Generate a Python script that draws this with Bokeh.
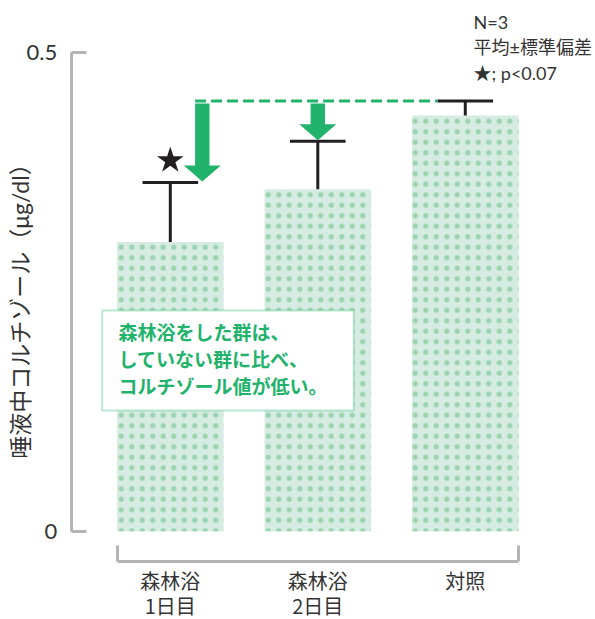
import math
from bokeh.plotting import figure
from bokeh.models import Range1d, FixedTicker, LinearAxis, BoxAnnotation, Label
from bokeh.embed import file_html
from bokeh.resources import INLINE

# ---------------- data ----------------
categories = ["森林浴\n1日目", "森林浴\n2日目", "対照"]
means = [0.302, 0.357, 0.434]
sds = [0.062, 0.050, 0.015]
significant = [True, False, False]
y_ticks = [0, 0.5]
y_tick_labels = ["0", "0.5"]
y_label = "唾液中コルチゾール（μg/dl）"
note_lines = ["森林浴をした群は、", "していない群に比べ、", "コルチゾール値が低い。"]
legend_lines = ["N=3", "平均±標準偏差", "★; p<0.07"]

# ---------------- style ----------------
FONT = "Lato, 'Noto Sans CJK JP', sans-serif"
JFONT = "'Noto Sans CJK JP', sans-serif"
GREEN = "#21b36b"
GRAY = "#b4b4b6"
BLACK = "#231f20"
BAR_FILL = "#d6ece3"
DOT = "#9ad3ad"
TEXT = "#333333"

W, H = 595, 619
sx = 147.5          # px per x unit
sy = 958.0          # px per y unit
X_ORIGIN_PX = 96.05  # screen x of x=0
Y_ORIGIN_PX = 530.7  # screen y of y=0
X0 = -X_ORIGIN_PX / sx
X1 = (W - X_ORIGIN_PX) / sx
Y1 = Y_ORIGIN_PX / sy
Y0 = -(H - Y_ORIGIN_PX) / sy


def dx(px):  # screen x -> data x
    return X0 + px / sx


def dy(py):  # screen y -> data y
    return Y1 - py / sy


BAR_W = 0.722
xs = [i + 0.5 for i in range(len(categories))]
tops = [m + s for m, s in zip(means, sds)]
capw = 27.8 / sx

p = figure(width=W, height=H, x_range=Range1d(X0, X1), y_range=Range1d(Y0, Y1),
           output_backend="svg", toolbar_location=None,
           min_border_left=0, min_border_right=0, min_border_top=0, min_border_bottom=0,
           x_axis_location=None, y_axis_location=None)
p.outline_line_color = None
p.grid.visible = False
p.background_fill_color = "white"
p.border_fill_color = "white"

# y axis (placed inside the frame)
yax = LinearAxis(ticker=FixedTicker(ticks=y_ticks, minor_ticks=[]), bounds=(y_ticks[0], y_ticks[-1]),
                 fixed_location=dx(70.7),
                 major_label_overrides={t: l for t, l in zip(y_ticks, y_tick_labels)},
                 axis_line_color=GRAY, axis_line_width=3,
                 major_tick_line_color=GRAY, major_tick_line_width=3,
                 major_tick_in=15, major_tick_out=0, minor_tick_line_color=None,
                 major_label_standoff=14, major_label_text_font_size="22px",
                 major_label_text_font=FONT, major_label_text_color=TEXT)
p.add_layout(yax, "left")

# x axis (bracket + category labels)
edge_l = xs[0] - BAR_W / 2
edge_r = xs[-1] + BAR_W / 2
xax = LinearAxis(ticker=FixedTicker(ticks=xs, minor_ticks=[edge_l, edge_r]), bounds=(edge_l, edge_r),
                 fixed_location=dy(560.7),
                 major_label_overrides={x: c for x, c in zip(xs, categories)},
                 axis_line_color=GRAY, axis_line_width=3,
                 major_tick_line_color=None, major_tick_in=0, major_tick_out=0,
                 minor_tick_line_color=GRAY, minor_tick_line_width=3,
                 minor_tick_in=16, minor_tick_out=0,
                 major_label_standoff=5, major_label_text_font_size="20px",
                 major_label_text_line_height=0.86,
                 major_label_text_font=JFONT, major_label_text_color=TEXT)
p.add_layout(xax, "below")

# bars
p.vbar(x=xs, top=means, bottom=0, width=BAR_W, fill_color=BAR_FILL, line_color=None,
       hatch_pattern="dot", hatch_color=DOT, hatch_scale=10.5, hatch_weight=1)

# error bars
p.segment(x0=xs, y0=means, x1=xs, y1=tops, line_color=BLACK, line_width=3)
p.segment(x0=[x - capw for x in xs], y0=tops, x1=[x + capw for x in xs], y1=tops,
          line_color=BLACK, line_width=3)

# significance star
sx_star = [x for x, s in zip(xs, significant) if s]
sy_star = [t + 22 / sy for t, s in zip(tops, significant) if s]
p.scatter(x=sx_star, y=sy_star, marker="star", size=28, fill_color=BLACK, line_color=None)

# arrows from control level down to each forest group
ref = tops[-1]
offsets_px = [32, 0]
ax_list, ay_list = [], []
hw, HW = 7.2 / sx, 18.5 / sx
for i, off in enumerate(offsets_px):
    xc = xs[i] + off / sx
    ytop = ref - 2.5 / sy
    ytip = tops[i] + 1 / sy
    yhead = ytip + 16 / sy
    ax_list.append([xc - hw, xc + hw, xc + hw, xc + HW, xc, xc - HW, xc - hw])
    ay_list.append([ytop, ytop, yhead, yhead, ytip, yhead, yhead])
p.patches(ax_list, ay_list, fill_color=GREEN, line_color=None)

# dashed reference line
x_start = xs[0] + offsets_px[0] / sx - hw
p.line(x=[x_start, xs[-1] - capw], y=[ref, ref], line_color=GREEN, line_width=3, line_dash="11 5")

# note box
box = BoxAnnotation(left=dx(101.7), right=dx(353.3), top=dy(310), bottom=dy(410),
                    fill_color="white", fill_alpha=1.0, line_color=GREEN, line_width=2)
p.add_layout(box)
for k, line in enumerate(note_lines):
    p.add_layout(Label(x=dx(118), y=dy(331 + k * 27), text=line, text_font=JFONT,
                       text_font_size="19px", text_font_style="bold", text_color=GREEN,
                       text_baseline="middle", text_align="left"))

# y axis label
p.add_layout(Label(x=dx(19.5), y=dy(305), text=y_label, angle=math.pi / 2,
                   text_font=FONT, text_font_size="23px", text_color=TEXT,
                   text_align="center", text_baseline="middle"))

# legend text
for k, line in enumerate(legend_lines):
    p.add_layout(Label(x=dx(473), y=dy(21 + k * 25.5), text=line, text_font=FONT,
                       text_font_size="18px", text_color=TEXT,
                       text_align="left", text_baseline="middle"))

open("out.html", "w").write(file_html(p, INLINE))
